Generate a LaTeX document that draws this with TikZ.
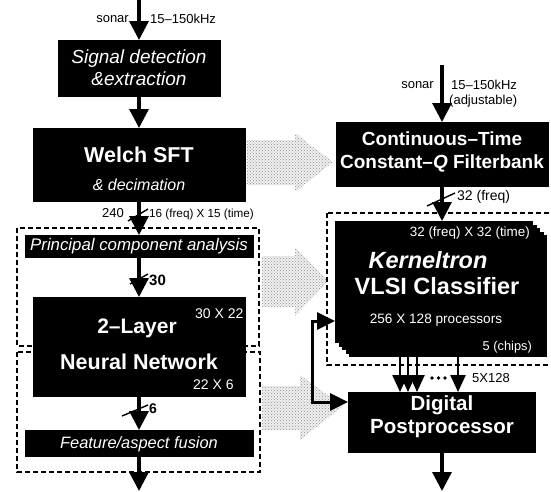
\documentclass[tikz,border=0pt]{standalone}
\usepackage{fontspec}
\setmainfont{Liberation Sans}
\usetikzlibrary{arrows.meta,patterns}
\newcommand{\myfs}[1]{\fontsize{#1}{#1}\selectfont}
\tikzset{
  blk/.style={fill=black, draw=none, inner sep=0pt, outer sep=0pt},
  wt/.style={text=white, inner sep=0pt, anchor=center},
  lbl/.style={inner sep=0pt, text=black},
  flow/.style={line width=3.2pt, -{Triangle[width=19pt,length=19pt]}},
  flowthin/.style={line width=2.4pt, -{Triangle[width=15pt,length=17pt]}},
  dashbox/.style={draw=black, line width=1.6pt, dash pattern=on 5pt off 3pt},
  slash/.style={line width=1.4pt},
  greyarrow/.style={pattern=crosshatch dots, pattern color=black!45, draw=none}
}
\begin{document}
\begin{tikzpicture}[x=1pt,y=-1pt]
\useasboundingbox (0,0) rectangle (551,491);
\fill[white] (0,0) rectangle (551,491);

% grey block arrows
\fill[black!6] (247,140) -- (295,140) -- (295,133) -- (333,162) -- (295,192) -- (295,185) -- (247,185) -- cycle;
\path[greyarrow] (247,140) -- (295,140) -- (295,133) -- (333,162) -- (295,192) -- (295,185) -- (247,185) -- cycle;
\fill[black!6] (262,256) -- (295,256) -- (295,247) -- (328,281) -- (295,316) -- (295,307) -- (262,307) -- cycle;
\path[greyarrow] (262,256) -- (295,256) -- (295,247) -- (328,281) -- (295,316) -- (295,307) -- (262,307) -- cycle;
\fill[black!6] (262,386) -- (300,386) -- (300,375) -- (343,406) -- (300,440) -- (300,430) -- (262,430) -- cycle;
\path[greyarrow] (262,386) -- (300,386) -- (300,375) -- (343,406) -- (300,440) -- (300,430) -- (262,430) -- cycle;

% dashed groups
\draw[dashbox] (17,228) rectangle (259,346);
\draw[dashbox] (17,352) rectangle (260,472);
\draw[dashbox] (327,213) rectangle (570,365);

% ---------- left column ----------
\node[blk, minimum width=163pt, minimum height=57pt] (sig) at (139,68.5) {};
\node[wt, font=\fontsize{19}{22}\selectfont\itshape, align=center] (sigt) at (139,68) {Signal detection\\\&extraction};

\node[blk, minimum width=213pt, minimum height=74pt] (welch) at (139,165) {};
\node[wt, font=\bfseries\myfs{21.5}] (welcht) at (139,155) {Welch SFT};
\node[wt, font=\itshape\myfs{16}] (welchd) at (139,185) {\& decimation};

\node[blk, minimum width=229pt, minimum height=23pt] (pca) at (139,246.5) {};
\node[wt, font=\itshape\myfs{16.8}] (pcat) at (139,246.5) {Principal component analysis};

\node[blk, minimum width=213pt, minimum height=100pt] (nn) at (139,347) {};
\node[wt, font=\bfseries\myfs{21}] (nnt1) at (137,328) {2–Layer};
\node[wt, font=\myfs{14}, anchor=west] (nnd1) at (195,314) {30 X 22};
\node[wt, font=\bfseries\myfs{21.5}] (nnt2) at (139,362) {Neural Network};
\node[wt, font=\myfs{14}, anchor=west] (nnd2) at (193,385) {22 X 6};

\node[blk, minimum width=229pt, minimum height=27pt] (fus) at (139,443.5) {};
\node[wt, font=\itshape\myfs{16.4}] (fust) at (139,444) {Feature/aspect fusion};

\coordinate (in1) at (139,0);
\coordinate (out1) at (139,491);
\draw[flow] (in1) -- (sig.north);
\node[lbl, font=\myfs{13}, anchor=east] (son1) at (129,19) {sonar};
\node[lbl, font=\myfs{13}, anchor=west] (fr1) at (150,19) {15–150kHz};

\draw[flow] (sig.south) -- (welch.north);

\draw[flow] (welch.south) -- (pca.north);
\draw[slash] (128,221) -- (148,209);
\node[lbl, font=\myfs{13}, anchor=east] (n240) at (124,213) {240};
\node[lbl, font=\myfs{11.7}, anchor=west] (dim1) at (149,214) {16 (freq) X 15 (time)};

\draw[flow] (pca.south) -- (nn.north);
\draw[slash] (130,284) -- (148,274);
\node[lbl, font=\bfseries\myfs{15}, anchor=west] (n30) at (149,280) {30};

\draw[flow] (nn.south) -- (fus.north);
\draw[slash] (122,416) -- (148,405);
\node[lbl, font=\bfseries\myfs{14}, anchor=west] (n6) at (149,409) {6};

\draw[flow] (fus.south) -- (out1);

% ---------- right column ----------
\node[blk, minimum width=213pt, minimum height=65pt] (fb) at (442,154.5) {};
\node[wt, font=\bfseries\fontsize{19}{23}\selectfont, align=center] (fbt) at (442,152) {Continuous–Time\\Constant–\textit{Q} Filterbank};

\coordinate (in2) at (442,65);
\draw[flow] (in2) -- (fb.north);
\node[lbl, font=\myfs{13}, anchor=east] (son2) at (434,85) {sonar};
\node[lbl, font=\myfs{13}, anchor=west] (fr2) at (451,85) {15–150kHz};
\node[lbl, font=\myfs{13}, anchor=west] (adj) at (449,101) {(adjustable)};

% Kerneltron stack (5 chips)
\node[blk, minimum width=198pt, minimum height=122pt] (kernE) at (448,296) {};
\node[blk, minimum width=198pt, minimum height=122pt] (kernD) at (444.5,292.5) {};
\node[blk, minimum width=198pt, minimum height=122pt] (kernC) at (441,289) {};
\node[blk, minimum width=198pt, minimum height=122pt] (kernB) at (437.5,285.5) {};
\node[blk, minimum width=198pt, minimum height=122pt] (kern) at (434,282) {};
\node[wt, font=\myfs{13.4}, anchor=east] (kd1) at (530,233) {32 (freq) X 32 (time)};
\node[wt, font=\bfseries\itshape\myfs{23.5}] (kt1) at (428,260) {Kerneltron};
\node[wt, font=\bfseries\myfs{23.5}] (kt2) at (437,286) {VLSI Classifier};
\node[wt, font=\myfs{13.6}] (kt3) at (436,320) {256 X 128 processors};
\node[wt, font=\myfs{12.8}, anchor=east] (kd2) at (532,347) {5 (chips)};

\draw[flow] (fb.south) -- (fb.south |- kern.north);
\draw[slash] (427,206) -- (455,193);
\node[lbl, font=\myfs{14}, anchor=west] (n32) at (457,197) {32 (freq)};

\node[blk, minimum width=188pt, minimum height=61pt] (pp) at (442,422.5) {};
\node[wt, font=\bfseries\fontsize{20.5}{23}\selectfont, align=center] (ppt) at (442,417) {Digital\\Postprocessor};

\draw[flowthin] (400,0 |- kernE.south) -- (400,0 |- pp.north);
\draw[flowthin] (408,0 |- kernE.south) -- (408,0 |- pp.north);
\draw[flowthin] (417,0 |- kernE.south) -- (417,0 |- pp.north);
\draw[flowthin] (458,0 |- kernE.south) -- (458,0 |- pp.north);
\fill (432,378) circle (1.9pt);
\fill (438.5,378) circle (1.9pt);
\fill (445,378) circle (1.9pt);
\node[lbl, font=\myfs{13}, anchor=west] (n5x) at (472,378) {5X128};

\coordinate (fbk) at (312,360);
\draw[line width=3pt, -{Triangle[width=17pt,length=18pt]}] (fbk) |- (kern.west |- 0,321);
\draw[line width=3pt, -{Triangle[width=17pt,length=18pt]}] (fbk) |- (pp.west |- 0,402);

\draw[flow] (pp.south) -- (442,491);
\end{tikzpicture}
\end{document}
